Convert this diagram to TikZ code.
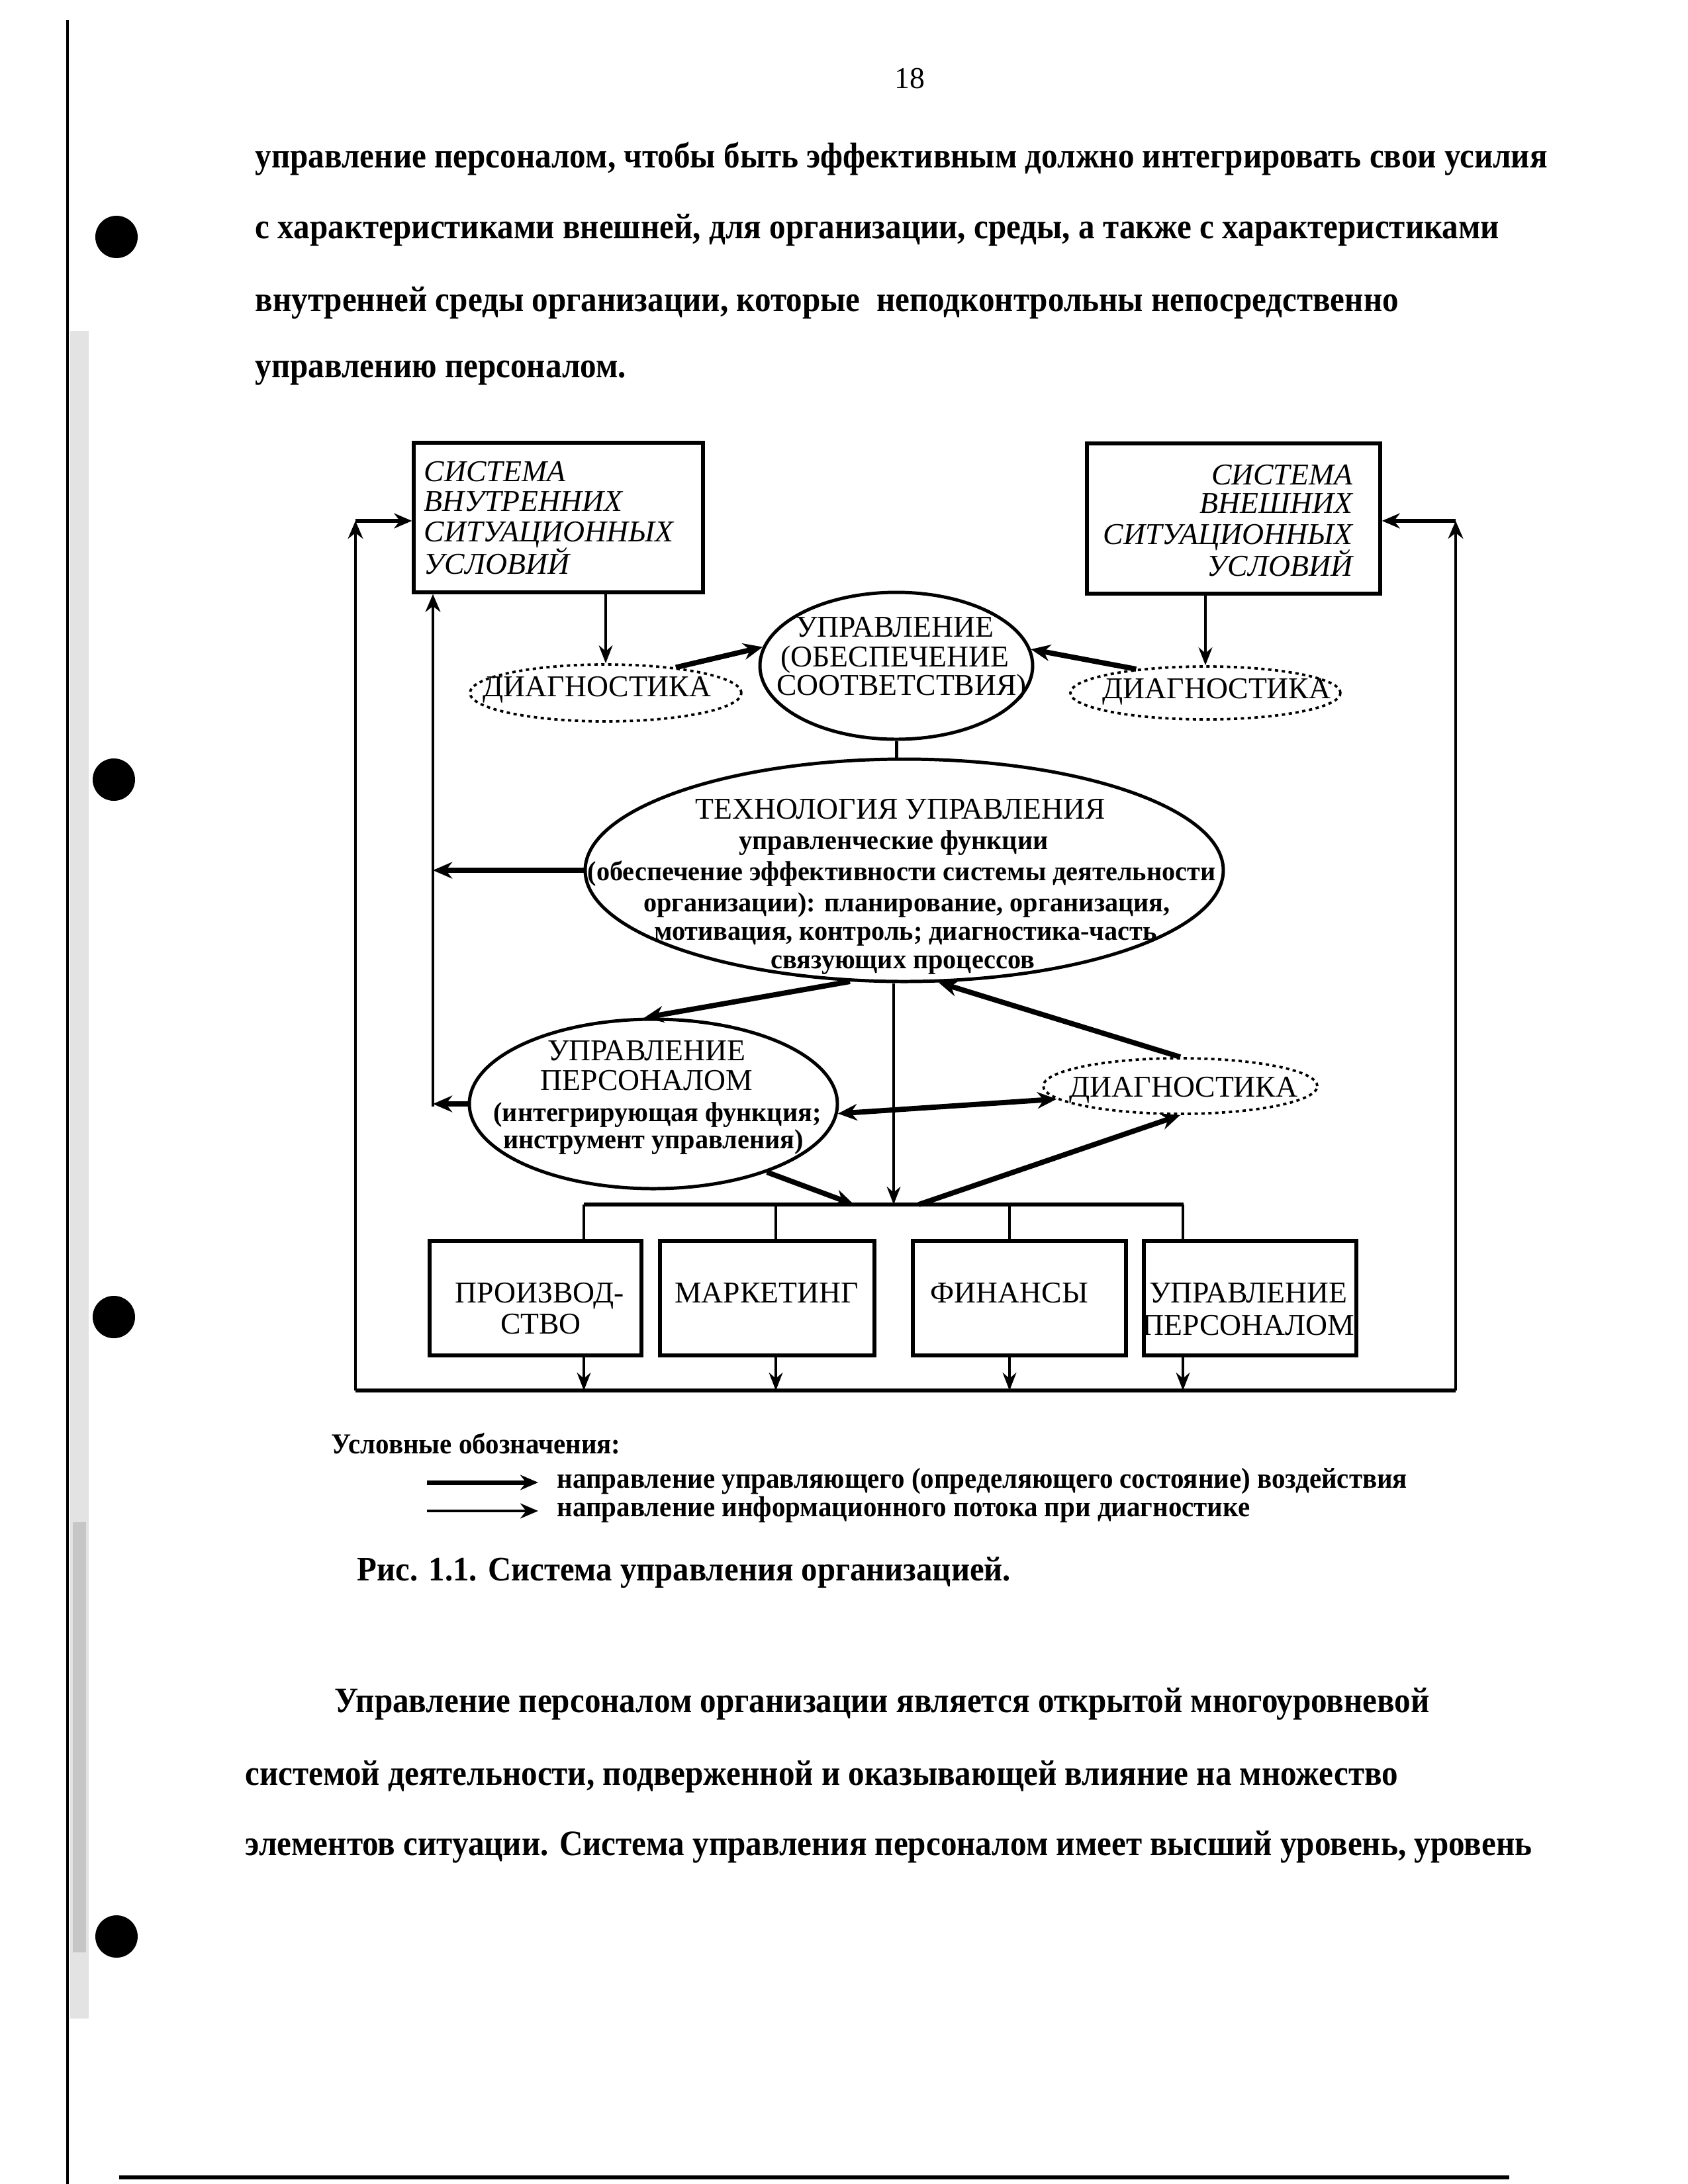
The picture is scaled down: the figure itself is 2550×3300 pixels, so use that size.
\documentclass[tikz,border=0pt]{standalone}
\usepackage{fontspec}
\setmainfont{Liberation Serif}
\newfontfamily\bodyfnt{Liberation Serif}[FakeStretch=0.91]
\newfontfamily\legfnt{Liberation Serif}[FakeStretch=0.94]
\newfontfamily\smfnt{Liberation Serif}[FakeStretch=0.97]
\usetikzlibrary{arrows.meta,calc,shapes.geometric}
\newcommand{\pxv}[1]{#1*0.2409pt}
\newcommand{\fntcap}{\fontsize{11}{11}\selectfont}
\newcommand{\fntit}{\itshape\fontsize{11}{11}\selectfont}
\newcommand{\fntsm}{\smfnt\bfseries\fontsize{10}{10}\selectfont}
\newcommand{\fntbody}{\bodyfnt\bfseries\fontsize{13}{13}\selectfont}
\newcommand{\fntleg}{\legfnt\bfseries\fontsize{10.5}{10.5}\selectfont}
\newcommand{\fntcapt}{\legfnt\bfseries\fontsize{12.5}{12.5}\selectfont}
\begin{document}
\begin{tikzpicture}[x=0.2409pt,y=-0.2409pt,
  box/.style={draw,line width=1.3pt,rectangle,inner sep=0pt},
  oval/.style={draw,line width=1.2pt,ellipse,inner sep=0pt},
  dotoval/.style={draw,line width=0.9pt,ellipse,inner sep=0pt,dash pattern=on 1.2pt off 1.3pt},
  lbl/.style={inner sep=0pt,anchor=base},
  lblw/.style={inner sep=0pt,anchor=base west},
  lble/.style={inner sep=0pt,anchor=base east},
  tarr/.style={line width=0.9pt,-{Stealth[length=6.5pt,width=5pt]}},
  karr/.style={line width=1.9pt,-{Stealth[length=7pt,width=6pt]}},
  karrb/.style={line width=1.9pt,{Stealth[length=7pt,width=6pt]}-{Stealth[length=7pt,width=6pt]}},
  vline/.style={line width=1pt},
  bline/.style={line width=1.6pt}]
\useasboundingbox (0,0) rectangle (2550,3300);
\fill[white] (0,0) rectangle (2550,3300);

% scan artefacts
\fill[gray!22] (106,500) rectangle (134,3050);
\fill[gray!45] (110,2300) rectangle (130,2950);
\draw[line width=0.8pt] (102,30) -- (102,3300);
\fill (176,358) circle [radius=32];
\fill (172,1178) circle [radius=32];
\fill (172,1990) circle [radius=32];
\fill (176,2926) circle [radius=32];
\draw[line width=1.4pt] (180,3290) -- (2280,3290);

% page number and body text
\node[lbl,font=\fontsize{11}{11}\selectfont] (pg) at (1374,133) {18};
\node[lblw,font=\fntbody] (p1) at (385,253) {управление персоналом, чтобы быть эффективным должно интегрировать свои усилия};
\node[lblw,font=\fntbody] (p2) at (385,360) {с характеристиками внешней, для организации, среды, а также с характеристиками};
\node[lblw,font=\fntbody] (p3) at (385,470) {внутренней среды организации, которые\ \ неподконтрольны непосредственно};
\node[lblw,font=\fntbody] (p4) at (385,570) {управлению персоналом.};

% boxes
\node[box,minimum width=\pxv{437},minimum height=\pxv{226}] (boxL) at (843.5,782) {};
\node[box,minimum width=\pxv{443},minimum height=\pxv{227}] (boxR) at (1863.5,783.5) {};
\node[lblw,font=\fntit] (bl1) at (640,727) {СИСТЕМА};
\node[lblw,font=\fntit] (bl2) at (640,772) {ВНУТРЕННИХ};
\node[lblw,font=\fntit] (bl3) at (640,818) {СИТУАЦИОННЫХ};
\node[lblw,font=\fntit] (bl4) at (640,867) {УСЛОВИЙ};
\node[lble,font=\fntit] (br1) at (2044,732) {СИСТЕМА};
\node[lble,font=\fntit] (br2) at (2044,775) {ВНЕШНИХ};
\node[lble,font=\fntit] (br3) at (2044,822) {СИТУАЦИОННЫХ};
\node[lble,font=\fntit] (br4) at (2044,870) {УСЛОВИЙ};

% upper ellipse
\node[oval,minimum width=\pxv{412},minimum height=\pxv{222}] (upr) at (1354,1006) {};
\node[lbl,font=\fntcap] (u1) at (1352,962) {УПРАВЛЕНИЕ};
\node[lbl,font=\fntcap] (u2) at (1352,1007) {(ОБЕСПЕЧЕНИЕ};
\node[lbl,font=\fntcap] (u3) at (1362,1050) {СООТВЕТСТВИЯ)};

% diagnostics
\node[dotoval,minimum width=\pxv{410},minimum height=\pxv{86}] (diagL) at (915,1047) {};
\node[lbl,font=\fntcap] (dl) at (902,1052) {ДИАГНОСТИКА};
\node[dotoval,minimum width=\pxv{408},minimum height=\pxv{80}] (diagR) at (1821,1047) {};
\node[lbl,font=\fntcap] (dr) at (1838,1055) {ДИАГНОСТИКА};
\node[dotoval,minimum width=\pxv{414},minimum height=\pxv{84}] (diagM) at (1783,1641) {};
\node[lbl,font=\fntcap] (dm) at (1788,1657) {ДИАГНОСТИКА};

% technology ellipse
\node[oval,minimum width=\pxv{964},minimum height=\pxv{336}] (tech) at (1366,1315) {};
\node[lbl,font=\fntcap] (t1) at (1360,1237) {ТЕХНОЛОГИЯ УПРАВЛЕНИЯ};
\node[lbl,font=\fntsm] (t2) at (1350,1283) {управленческие функции};
\node[lbl,font=\fntsm] (t3) at (1362,1330) {(обеспечение эффективности системы деятельности};
\node[lbl,font=\fntsm] (t4) at (1370,1377) {организации): планирование, организация,};
\node[lbl,font=\fntsm] (t5) at (1368,1420) {мотивация, контроль; диагностика-часть};
\node[lbl,font=\fntsm] (t6) at (1364,1463) {связующих процессов};

% personnel ellipse
\node[oval,minimum width=\pxv{556},minimum height=\pxv{256}] (up) at (987,1668) {};
\node[lbl,font=\fntcap] (p5) at (977,1602) {УПРАВЛЕНИЕ};
\node[lbl,font=\fntcap] (p6) at (977,1647) {ПЕРСОНАЛОМ};
\node[lbl,font=\fntsm] (p7) at (993,1694) {(интегрирующая функция;};
\node[lbl,font=\fntsm] (p8) at (987,1735) {инструмент управления)};

% bottom boxes
\node[box,minimum width=\pxv{320},minimum height=\pxv{173}] (b1) at (809,1961.5) {};
\node[box,minimum width=\pxv{324},minimum height=\pxv{173}] (b2) at (1159,1961.5) {};
\node[box,minimum width=\pxv{322},minimum height=\pxv{173}] (b3) at (1540,1961.5) {};
\node[box,minimum width=\pxv{321},minimum height=\pxv{173}] (b4) at (1888.5,1961.5) {};
\node[lbl,font=\fntcap] (b1a) at (815,1968) {ПРОИЗВОД-};
\node[lbl,font=\fntcap] (b1b) at (817,2015) {СТВО};
\node[lbl,font=\fntcap] (b2a) at (1158,1968) {МАРКЕТИНГ};
\node[lbl,font=\fntcap] (b3a) at (1525,1968) {ФИНАНСЫ};
\node[lbl,font=\fntcap] (b4a) at (1886,1968) {УПРАВЛЕНИЕ};
\node[lbl,font=\fntcap] (b4b) at (1886,2017) {ПЕРСОНАЛОМ};

% coordinates
\coordinate (cBL) at (537,2101);
\coordinate (cBR) at (2199,2101);
\coordinate (cTL) at (537,787);
\coordinate (cTR) at (2199,787);
\coordinate (cIL) at (654,1672);
\coordinate (bw) at (882,1820);
\coordinate (be) at (1788,1820);
\coordinate (d1) at (882,1820);
\coordinate (d2) at (1172,1820);
\coordinate (d3) at (1525,1820);
\coordinate (d4) at (1787,1820);
\coordinate (cV) at (1350,1820);
\coordinate (busA) at (1388,1820);
\coordinate (busB) at (1290,1820);

% outer loop
\draw[bline] (cBL) -- (cBR);
\draw[vline,-{Stealth[length=6.5pt,width=5.5pt]}] (cBL) -- (cTL);
\draw[vline,-{Stealth[length=6.5pt,width=5.5pt]}] (cBR) -- (cTR);
\draw[line width=1.5pt,-{Stealth[length=6.5pt,width=5.5pt]}] (cTL) -- (cTL -| boxL.west);
\draw[line width=1.5pt,-{Stealth[length=6.5pt,width=5.5pt]}] (cTR) -- (cTR -| boxR.east);
\draw[vline,-{Stealth[length=6.5pt,width=5.5pt]}] (cIL) -- (cIL |- boxL.south);

% top part
\draw[tarr] (diagL.north |- boxL.south) -- (diagL.north);
\draw[tarr] (diagR.north |- boxR.south) -- (diagR.north);
\draw[karr] (diagL.20) -- (upr.172);
\draw[karr] (diagR.161) -- (upr.7);
\draw[line width=1.2pt] (upr.south) -- (upr.south |- tech.north);

% middle part
\draw[karr] (tech.west) -- (tech.west -| cIL);
\draw[karr] (tech.244) -- (up.96);
\draw[tarr] (cV |- tech.south) -- (cV);
\draw[karr] (diagM.north) -- (tech.287);
\draw[karrb] (up.357) -- (diagM.186);
\draw[karr] (busA) -- (diagM.south);
\draw[karr] (up.329) -- (busB);
\draw[karr] (up.west) -- (up.west -| cIL);

% bus and drops
\draw[bline] (bw) -- (be);
\draw[vline] (d1) -- (d1 |- b1.north);
\draw[vline] (d2) -- (d2 |- b2.north);
\draw[vline] (d3) -- (d3 |- b3.north);
\draw[vline] (d4) -- (d4 |- b4.north);
\draw[tarr] (d1 |- b1.south) -- (d1 |- cBL);
\draw[tarr] (d2 |- b2.south) -- (d2 |- cBL);
\draw[tarr] (d3 |- b3.south) -- (d3 |- cBL);
\draw[tarr] (d4 |- b4.south) -- (d4 |- cBL);

% legend
\node[lblw,font=\fntleg] (lg0) at (500,2196) {Условные обозначения:};
\coordinate (l1a) at (645,2240);
\coordinate (l1b) at (813,2240);
\coordinate (l2a) at (645,2283);
\coordinate (l2b) at (813,2283);
\draw[line width=1.7pt,-{Stealth[length=6.5pt,width=5.5pt]}] (l1a) -- (l1b);
\draw[line width=1pt,-{Stealth[length=6.5pt,width=5.5pt]}] (l2a) -- (l2b);
\node[lblw,font=\fntleg] (lg1) at (841,2248) {направление управляющего (определяющего состояние) воздействия};
\node[lblw,font=\fntleg] (lg2) at (841,2291) {направление информационного потока при диагностике};
\node[lblw,font=\fntcapt] (cap) at (539,2388) {Рис. 1.1. Система управления организацией.};

% bottom text
\node[lblw,font=\fntbody] (q1) at (505,2587) {Управление персоналом организации является открытой многоуровневой};
\node[lblw,font=\fntbody] (q2) at (370,2697) {системой деятельности, подверженной и оказывающей влияние на множество};
\node[lblw,font=\fntbody] (q3) at (370,2803) {элементов ситуации. Система управления персоналом имеет высший уровень, уровень};
\end{tikzpicture}
\end{document}
